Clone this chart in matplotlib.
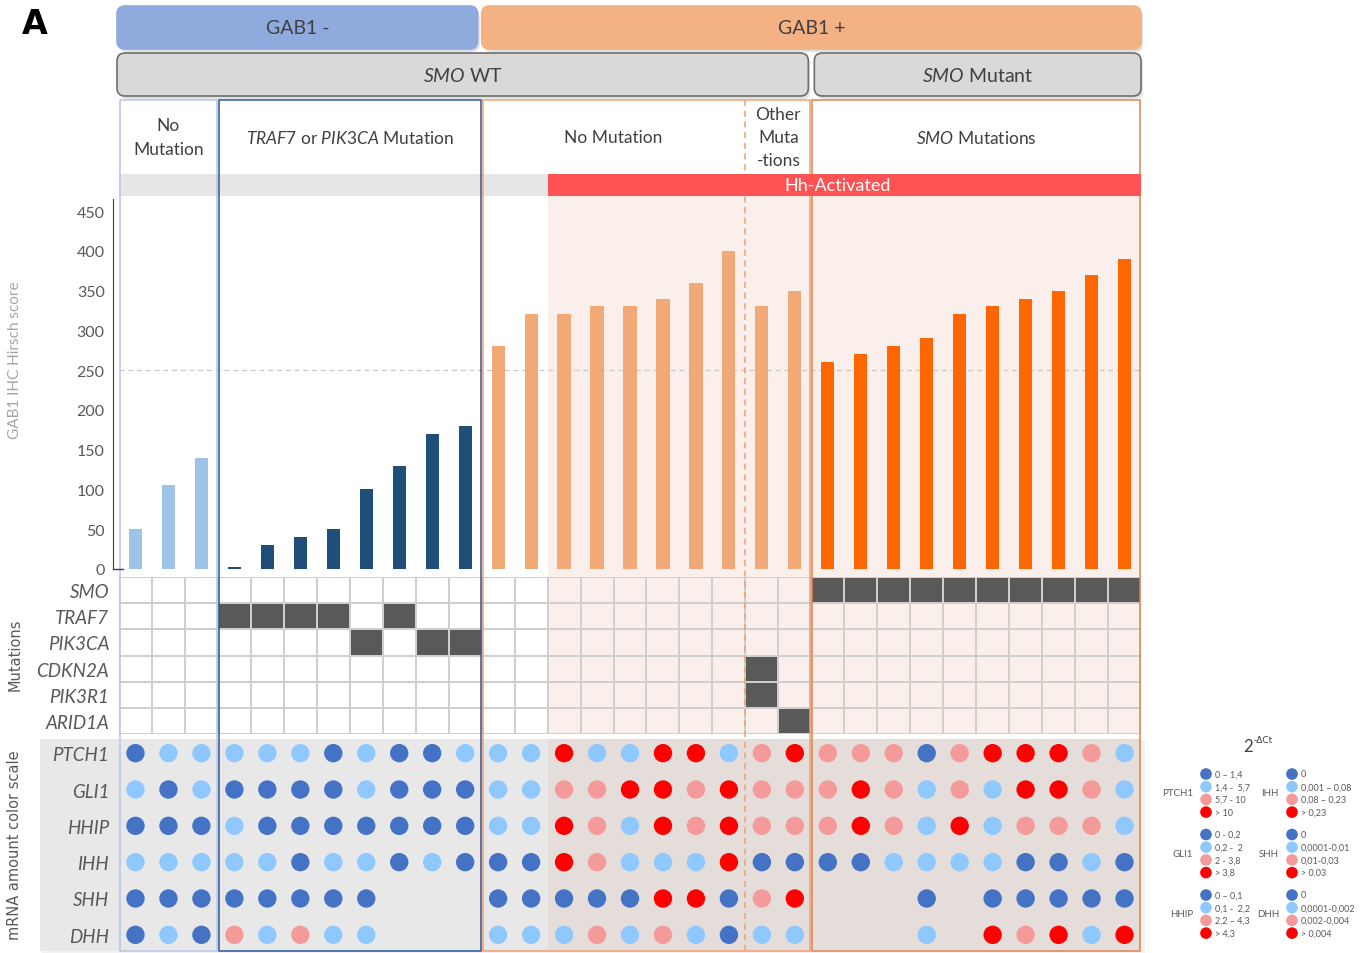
"""
GAB1 IHC / mutation / mRNA overview figure (panel A)
"""

import numpy as np
import matplotlib.pyplot as plt
from matplotlib.colors import ListedColormap
from matplotlib.patches import FancyBboxPatch, Rectangle

plt.rcParams["font.family"] = ["Lato", "DejaVu Sans"]
plt.rcParams["mathtext.fontset"] = "custom"
plt.rcParams["mathtext.rm"] = "Lato"
plt.rcParams["mathtext.it"] = "Lato:italic"

# ---- data ----
group_labels = [
    "No\nMutation",
    r"$\mathit{TRAF7}$ or $\mathit{PIK3CA}$ Mutation",
    "No Mutation",
    "Other\nMuta\n-tions",
    r"$\mathit{SMO}$ Mutations",
]
group_sizes = [3, 8, 8, 2, 10]
group_bar_colors = ["#9dc3e6", "#1f4e79", "#f2a978", "#f2a978", "#ff6600"]
hh_first_col = 13  # Hh-activated from this column on

hscore = [50, 105, 140,
          2, 30, 40, 50, 100, 130, 170, 180,
          280, 320, 320, 330, 330, 340, 360, 400,
          330, 350,
          260, 270, 280, 290, 320, 330, 340, 350, 370, 390]

mut_genes = ["SMO", "TRAF7", "PIK3CA", "CDKN2A", "PIK3R1", "ARID1A"]
mut_status = [
    "000 00000000 00000000 00 1111111111",
    "000 11110100 00000000 00 0000000000",
    "000 00001011 00000000 00 0000000000",
    "000 00000000 00000000 10 0000000000",
    "000 00000000 00000000 10 0000000000",
    "000 00000000 00000000 01 0000000000",
]

# 0 = low (dark blue), 1 = light blue, 2 = pink, 3 = high (red), . = n/a
mrna_genes = ["PTCH1", "GLI1", "HHIP", "IHH", "SHH", "DHH"]
mrna_levels = [
    "011 11101001 11311331 23 2220233321",
    "101 00001000 11223323 22 2321213321",
    "000 10000000 11321323 22 2321312221",
    "111 11011010 00321113 00 0011110010",
    "000 00000... 00000330 23 ...0.00000",
    "010 21211... 11121210 11 ...1.32313",
]
level_colors = ["#4472c4", "#8fc8ff", "#f59a9b", "#ff0000"]

legend_left = ["PTCH1", "GLI1", "HHIP"]
legend_right = ["IHH", "SHH", "DHH"]
legend_ranges = {
    "PTCH1": ["0 – 1,4", "1,4 -  5,7", "5,7 - 10", "> 10"],
    "GLI1": ["0 - 0,2", "0,2 -  2", "2 - 3,8", "> 3,8"],
    "HHIP": ["0 – 0,1", "0,1 -  2,2", "2,2 – 4,3", "> 4,3"],
    "IHH": ["0", "0,001 – 0,08", "0,08 – 0,23", "> 0,23"],
    "SHH": ["0", "0,0001-0,01", "0,01-0,03", "> 0,03"],
    "DHH": ["0", "0,0001-0,002", "0,002-0,004", "> 0,004"],
}

# ---- layout (pixels) ----
W, H = 1370, 954
X0, X1 = 119, 1141
NCOL = sum(group_sizes)
CW = (X1 - X0) / NCOL
GREY_TXT = "#404040"


def fig_rect(x0, y0, x1, y1):
    return [x0 / W, 1 - y1 / H, (x1 - x0) / W, (y1 - y0) / H]


def col_edge(c):
    return X0 + c * CW


edges = np.concatenate([[0], np.cumsum(group_sizes)])
hh_x = col_edge(hh_first_col)

fig = plt.figure(figsize=(W / 100, H / 100), dpi=100)

ax_under = fig.add_axes([0, 0, 1, 1], zorder=0)
ax_over = fig.add_axes([0, 0, 1, 1], zorder=10)
for a in (ax_under, ax_over):
    a.set_xlim(0, W)
    a.set_ylim(H, 0)
    a.axis("off")
    a.patch.set_alpha(0)

# backgrounds
ax_under.add_patch(Rectangle((hh_x, 197), X1 - hh_x, 734 - 197, fc="#fbefec", ec="none"))
ax_under.add_patch(Rectangle((42, 742), X1 + 4 - 42, 212, fc="#f2f2f2", ec="none"))
ax_under.add_patch(Rectangle((40, 740), X1 - 40, 212, fc="#e8e8e8", ec="none"))
ax_under.add_patch(Rectangle((hh_x, 740), X1 - hh_x, 212, fc="#e4ddd9", ec="none"))

# grey band (under frames)
ax_under.add_patch(Rectangle((X0, 175), hh_x - X0, 22, fc="#e6e6e6", ec="none"))

# ---- header boxes ----
def header_box(x0, x1, y0, y1, fc, ec, label):
    ax_over.add_patch(FancyBboxPatch((x0 + 2, y0 + 3), x1 - x0, y1 - y0,
                                     boxstyle="round,pad=0,rounding_size=8",
                                     fc="#000000", ec="none", alpha=0.12))
    ax_over.add_patch(FancyBboxPatch((x0, y0), x1 - x0, y1 - y0,
                                     boxstyle="round,pad=0,rounding_size=8",
                                     fc=fc, ec=ec, lw=1.2))
    ax_over.text((x0 + x1) / 2, (y0 + y1) / 2, label, color=GREY_TXT,
                 fontsize=14, ha="center", va="center")


header_box(117, col_edge(edges[2]) - 4, 7, 50, "#8faadc", "#8faadc", "GAB1 -")
header_box(col_edge(edges[2]), X1, 7, 50, "#f4b183", "#f4b183", "GAB1 +")
header_box(117, col_edge(edges[4]) - 3, 54, 97, "#d9d9d9", "#6e6e6e", r"$\mathit{SMO}$ WT")
header_box(col_edge(edges[4]) + 3, X1, 54, 97, "#d9d9d9", "#6e6e6e", r"$\mathit{SMO}$ Mutant")

# sub-group labels
for g, label in enumerate(group_labels):
    xc = (col_edge(edges[g]) + col_edge(edges[g + 1])) / 2
    ax_over.text(xc, 138, label, color=GREY_TXT, fontsize=12.5,
                 ha="center", va="center", linespacing=1.55)

# group frames
frame_colors = ["#b4c7e7", "#2f5597", "#f0a070", "#dd8452"]
frame_spans = [(edges[0], edges[1]), (edges[1], edges[2]), (edges[2], edges[4]), (edges[4], edges[5])]
for (c0, c1), ec in zip(frame_spans, frame_colors):
    x0 = col_edge(c0) + 1
    x1 = col_edge(c1) - 1
    ax_over.add_patch(Rectangle((x0, 101), x1 - x0, 851, fill=False, ec=ec, lw=1.1, zorder=1))
ax_over.plot([col_edge(edges[3])] * 2, [101, 952], color="#f0a070", lw=1.1,
             ls=(0, (4, 3)), zorder=1)
ax_over.plot([113, 123], [570, 570], color=GREY_TXT, lw=1)

# Hh-activated band (over frames)
ax_over.add_patch(Rectangle((hh_x, 175), X1 - hh_x, 22, fc="#ff5353", ec="none", zorder=3))
ax_over.text((hh_x + X1) / 2 - 7, 186, "Hh-Activated", color="white",
             fontsize=13, ha="center", va="center", zorder=4)

# ---- bar chart ----
ax_bar = fig.add_axes(fig_rect(X0, 197, X1, 570), zorder=5)
ax_bar.patch.set_alpha(0)
bar_colors = np.repeat(group_bar_colors, group_sizes)
ax_bar.bar(np.arange(NCOL), hscore, width=0.4, color=bar_colors, zorder=3)
ax_bar.axhline(250, color="#c8c8c8", lw=0.9, ls=(0, (4, 3)), zorder=1)
ax_bar.set_xlim(-0.5, NCOL - 0.5)
ax_bar.set_ylim(0, (570 - 197) / ((570 - 212) / 450))
ax_bar.set_yticks(np.arange(0, 451, 50))
ax_bar.set_xticks([])
for s in ("top", "right", "bottom"):
    ax_bar.spines[s].set_visible(False)
ax_bar.spines["left"].set_position(("outward", 4.3))
ax_bar.spines["left"].set_bounds(0, 465)
ax_bar.spines["left"].set_color(GREY_TXT)
ax_bar.tick_params(axis="y", length=0, pad=6, labelsize=11.5, labelcolor="#595959")

# ---- mutation matrix ----
ax_mut = fig.add_axes(fig_rect(X0, 578, X1, 735), zorder=5)
ax_mut.patch.set_alpha(0)
mut = np.array([[int(ch) for ch in row.replace(" ", "")] for row in mut_status])
ax_mut.pcolormesh(np.arange(NCOL + 1) - 0.5, np.arange(len(mut_genes) + 1) - 0.5, mut,
                  cmap=ListedColormap([(1, 1, 1, 0), "#595959"]),
                  edgecolors="#cfcfcf", linewidth=1.4)
ax_mut.set_xlim(-0.5, NCOL - 0.5)
ax_mut.set_ylim(len(mut_genes) - 0.5, -0.5)

# ---- mRNA dot matrix ----
ax_dot = fig.add_axes(fig_rect(X0, 736, X1, 954), zorder=5)
ax_dot.patch.set_alpha(0)
for r, row in enumerate(mrna_levels):
    vals = row.replace(" ", "")
    cols = [i for i, ch in enumerate(vals) if ch != "."]
    ax_dot.scatter(cols, [r] * len(cols), s=175, linewidths=0,
                   c=[level_colors[int(vals[i])] for i in cols])
ax_dot.set_xlim(-0.5, NCOL - 0.5)
ax_dot.set_ylim(len(mrna_genes) - 0.5, -0.5)

for a, genes in ((ax_mut, mut_genes), (ax_dot, mrna_genes)):
    a.set_xticks([])
    a.set_yticks(range(len(genes)))
    a.set_yticklabels(genes, fontstyle="italic", fontsize=13.5, color="#595959")
    a.tick_params(length=0, pad=7)
    for s in a.spines.values():
        s.set_visible(False)

# ---- side labels ----
fig.text(35 / W, 1 - 25 / H, "A", fontsize=24, fontweight="bold",
         family="DejaVu Sans", ha="center", va="center")
fig.text(15 / W, 1 - 360 / H, "GAB1 IHC Hirsch score", rotation=90, color="#a6a6a6",
         fontsize=11, ha="center", va="center")
fig.text(15 / W, 1 - 655 / H, "Mutations", rotation=90, color="#595959",
         fontsize=10.5, family="DejaVu Sans", ha="center", va="center")
fig.text(15 / W, 1 - 845 / H, "mRNA amount color scale", rotation=90, color="#595959",
         fontsize=10.5, family="DejaVu Sans", ha="center", va="center")

# ---- colour legend ----
ax_over.text(1253, 747, "2", fontsize=12, color=GREY_TXT, ha="right", va="center")
ax_over.text(1254, 741, "-ΔCt", fontsize=6.5, color=GREY_TXT, ha="left", va="center",
             family="DejaVu Sans")
for genes, x_dot in ((legend_left, 1206), (legend_right, 1292)):
    for gi, gene in enumerate(genes):
        y0 = 775 + gi * 60.5
        ys = [y0 + k * 12.7 for k in range(4)]
        ax_over.scatter([x_dot] * 4, ys, s=70, c=level_colors, linewidths=0)
        ax_over.text(x_dot - 13, y0 + 19, gene, fontsize=7, color="#595959",
                     ha="right", va="center")
        for y, txt in zip(ys, legend_ranges[gene]):
            ax_over.text(x_dot + 9, y, txt, fontsize=6.5, color="#595959",
                         ha="left", va="center")

fig.savefig("out.png", dpi=100)
plt.close(fig)
